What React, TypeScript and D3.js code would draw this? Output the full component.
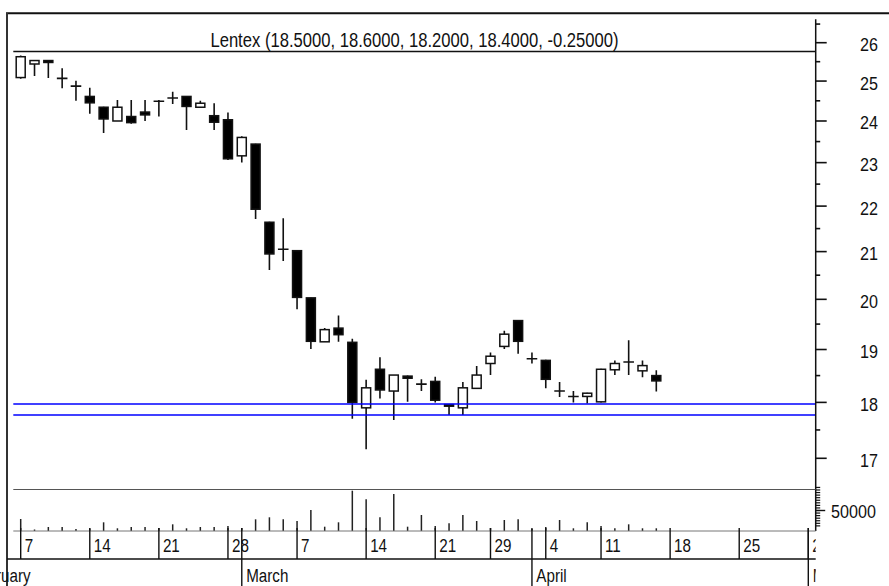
import React, { useEffect } from 'react';
import * as d3 from 'd3';

// Lentex daily candles, 7 Feb - 15 Apr 2005 (Warsaw)
const title = 'Lentex (18.5000, 18.6000, 18.2000, 18.4000, -0.25000)';

const dates = [
  '2005-02-07', '2005-02-08', '2005-02-09', '2005-02-10', '2005-02-11',
  '2005-02-14', '2005-02-15', '2005-02-16', '2005-02-17', '2005-02-18',
  '2005-02-21', '2005-02-22', '2005-02-23', '2005-02-24', '2005-02-25',
  '2005-02-28', '2005-03-01', '2005-03-02', '2005-03-03', '2005-03-04',
  '2005-03-07', '2005-03-08', '2005-03-09', '2005-03-10', '2005-03-11',
  '2005-03-14', '2005-03-15', '2005-03-16', '2005-03-17', '2005-03-18',
  '2005-03-21', '2005-03-22', '2005-03-23', '2005-03-24',
  '2005-03-29', '2005-03-30', '2005-03-31', '2005-04-01',
  '2005-04-04', '2005-04-05', '2005-04-06', '2005-04-07',
  '2005-04-11', '2005-04-12', '2005-04-13', '2005-04-14', '2005-04-15',
];
const opens = [
  25.09, 25.44, 25.53, 25.07, 24.87, 24.61, 24.34, 24.0, 24.11, 24.22,
  24.48, 24.57, 24.61, 24.34, 24.13, 24.03, 23.16, 23.44, 21.64, 21.05,
  21.02, 20.03, 19.15, 19.42, 19.14, 17.9, 18.62, 18.21, 18.49, 18.34,
  18.39, 17.96, 17.9, 18.26, 18.73, 19.06, 19.57, 18.82, 18.79, 18.21,
  18.11, 18.11, 18.01, 18.61, 18.76, 18.59, 18.5,
];
const highs = [
  25.66, 25.54, 25.54, 25.33, 25.01, 24.83, 24.35, 24.52, 24.52, 24.52,
  24.52, 24.73, 24.62, 24.5, 24.44, 24.21, 23.63, 23.45, 21.65, 21.73,
  21.02, 20.03, 19.42, 19.67, 19.21, 18.42, 18.85, 18.51, 18.5, 18.43,
  18.48, 17.96, 18.38, 18.68, 18.94, 19.37, 19.58, 18.94, 18.8, 18.38,
  18.21, 18.18, 18.63, 18.79, 19.18, 18.79, 18.6,
];
const lows = [
  25.06, 25.13, 25.08, 24.82, 24.5, 24.18, 23.71, 24.0, 23.93, 24.0,
  24.11, 24.42, 23.78, 24.33, 23.78, 23.06, 23.0, 21.71, 20.61, 20.8,
  19.8, 19.01, 19.15, 19.15, 17.7, 17.16, 18.07, 17.68, 18.01, 18.21,
  18.0, 17.77, 17.77, 18.26, 18.51, 19.01, 18.92, 18.73, 18.26, 18.1,
  18.0, 17.98, 18.0, 18.51, 18.51, 18.47, 18.2,
];
const closes = [
  25.63, 25.53, 25.48, 25.07, 24.87, 24.45, 24.05, 24.34, 23.96, 24.15,
  24.49, 24.57, 24.36, 24.44, 23.97, 23.09, 23.6, 21.93, 20.95, 21.05,
  20.04, 19.16, 19.39, 19.29, 18.0, 18.27, 18.23, 18.51, 18.45, 18.34,
  18.04, 17.93, 18.27, 18.51, 18.87, 19.3, 19.16, 18.82, 18.43, 18.21,
  18.11, 18.17, 18.62, 18.73, 18.76, 18.69, 18.4,
];
const volumes = [
  29300, 3700, 9800, 9800, 4900, 6100, 21200, 6600, 9800, 9800,
  7300, 16300, 6600, 9800, 9800, 12200, 7300, 28500, 33400, 28500,
  24400, 51200, 10500, 21200, 98300, 77300, 33400, 90200, 10500, 39000,
  12200, 18800, 39000, 24400, 7300, 26800, 28500, 4900, 9800, 26800,
  6600, 21200, 12200, 6600, 16300, 6600, 6600,
];

const supportLevels = [17.97, 17.77];
const priceTicks = [17, 18, 19, 20, 21, 22, 23, 24, 25, 26];
const priceMinorTicks = [17.5, 18.5, 19.5, 20.5, 21.5, 22.5, 23.5, 24.5, 25.5, 26.5];
const volumeLabelTick = 50000;

const holidays = ['2005-03-25', '2005-03-28', '2005-04-08'];
const weekStarts = [
  '2005-02-07', '2005-02-14', '2005-02-21', '2005-02-28', '2005-03-07', '2005-03-14',
  '2005-03-21', '2005-03-29', '2005-04-04', '2005-04-11', '2005-04-18', '2005-04-25', '2005-05-02',
];
const monthStarts = ['2005-02-01', '2005-03-01', '2005-04-01', '2005-05-02'];
const monthNames = ['February', 'March', 'April', 'May'];

const fmt = d3.timeFormat('%Y-%m-%d');
const parse = d3.timeParse('%Y-%m-%d');
const tradingDays = d3.timeDay
  .range(new Date(2005, 1, 1), new Date(2005, 4, 3))
  .filter((d) => d.getDay() !== 0 && d.getDay() !== 6 && !holidays.includes(fmt(d)))
  .map(fmt);
const dayIndex = (d: string) => tradingDays.indexOf(d);

const W = 889;
const H = 586;
const plotLeft = 13.3;
const axisX = 815.7;
const titleLineY = 51.5;
const volTop = 489.5;
const volBase = 531;
const dayRowBottom = 559;
const FONT = "'Liberation Sans', Arial, Helvetica, sans-serif";

const x = d3
  .scaleLinear()
  .domain([dayIndex('2005-02-07'), dayIndex('2005-05-02')])
  .range([20.7, 808.3]);
const y = d3.scaleLog().domain([17, 26]).range([458.3, 42.7]);
const yVol = d3.scaleLinear().domain([0, 100000]).range([volBase, volBase - 41]);
const volMinorTicks = d3.range(12500, 107000, 6250);

const Txt: React.FC<{
  x: number;
  y: number;
  size: number;
  sx?: number;
  anchor?: string;
  children: React.ReactNode;
}> = ({ x, y, size, sx = 0.84, anchor = 'start', children }) => (
  <g transform={`translate(${x},${y}) scale(${sx},1)`}>
    <text fontSize={size} textAnchor={anchor} fontFamily={FONT} fill="#111">
      {children}
    </text>
  </g>
);

const App: React.FC = () => {
  useEffect(() => {
    document.body.style.margin = '0';
  }, []);

  const bodyW = 9;
  const candles = dates.map((d, i) => ({
    cx: x(dayIndex(d)),
    o: opens[i],
    h: highs[i],
    l: lows[i],
    c: closes[i],
  }));

  return (
    <svg width={W} height={H} style={{ display: 'block', background: '#fff' }}>
      <defs>
        <clipPath id="dateClip">
          <rect x={-60} y={volBase - 4} width={axisX + 60} height={H} />
        </clipPath>
        <clipPath id="plotClip">
          <rect x={plotLeft} y={titleLineY} width={axisX - plotLeft} height={volTop - titleLineY} />
        </clipPath>
      </defs>

      {/* frame */}
      <line x1={6} x2={W} y1={13.3} y2={13.3} stroke="#111" strokeWidth={2} />
      <line x1={7} x2={7} y1={13} y2={H} stroke="#333" strokeWidth={2} />

      {/* title */}
      <Txt x={(plotLeft + axisX) / 2} y={46.7} size={19.5} sx={0.852} anchor="middle">
        {title}
      </Txt>
      <line x1={plotLeft} x2={axisX} y1={titleLineY} y2={titleLineY} stroke="#111" strokeWidth={1.6} />

      {/* candles */}
      <g clipPath="url(#plotClip)">
        {candles.map((k, i) => {
          const up = k.c > k.o;
          const top = y(Math.max(k.o, k.c));
          const bot = y(Math.min(k.o, k.c));
          const hgt = bot - top;
          return (
            <g key={i}>
              <line x1={k.cx} x2={k.cx} y1={y(k.h)} y2={y(k.l)} stroke="#111" strokeWidth={1.6} />
              {hgt < 1 ? (
                <line
                  x1={k.cx - bodyW / 2 - 0.8}
                  x2={k.cx + bodyW / 2 + 0.8}
                  y1={top}
                  y2={top}
                  stroke="#111"
                  strokeWidth={1.6}
                />
              ) : (
                <rect
                  x={k.cx - bodyW / 2}
                  y={top}
                  width={bodyW}
                  height={hgt}
                  fill={up ? '#fff' : '#000'}
                  stroke="#111"
                  strokeWidth={1.5}
                />
              )}
            </g>
          );
        })}
      </g>

      {/* support lines */}
      {supportLevels.map((v) => (
        <line key={v} x1={plotLeft} x2={axisX} y1={y(v)} y2={y(v)} stroke="#0000ff" strokeWidth={1.6} />
      ))}

      {/* price axis */}
      <line x1={axisX} x2={axisX} y1={19.3} y2={volBase} stroke="#111" strokeWidth={1.5} />
      {priceTicks.map((t) => (
        <g key={t}>
          <line x1={axisX} x2={axisX + 11} y1={y(t)} y2={y(t)} stroke="#111" strokeWidth={1.6} />
          <Txt x={860} y={y(t) + 8.5} size={19} sx={0.85}>
            {t}
          </Txt>
        </g>
      ))}
      {priceMinorTicks.map((t) => (
        <line key={t} x1={axisX} x2={axisX + 4.5} y1={y(t)} y2={y(t)} stroke="#111" strokeWidth={1.6} />
      ))}

      {/* volume panel */}
      <line x1={plotLeft} x2={axisX} y1={volTop} y2={volTop} stroke="#555" strokeWidth={1} />
      {candles.map((k, i) => (
        <line
          key={i}
          x1={k.cx}
          x2={k.cx}
          y1={yVol(0)}
          y2={yVol(volumes[i])}
          stroke="#222"
          strokeWidth={1.5}
        />
      ))}
      {volMinorTicks.map((t) => (
        <line key={t} x1={axisX} x2={axisX + 4.5} y1={yVol(t)} y2={yVol(t)} stroke="#111" strokeWidth={1.2} />
      ))}
      <line
        x1={axisX}
        x2={axisX + 9.5}
        y1={yVol(volumeLabelTick)}
        y2={yVol(volumeLabelTick)}
        stroke="#111"
        strokeWidth={1.4}
      />
      <Txt x={831} y={yVol(volumeLabelTick) + 7.5} size={19} sx={0.85}>
        {volumeLabelTick}
      </Txt>

      {/* date axis */}
      <line x1={plotLeft} x2={axisX} y1={volBase} y2={volBase} stroke="#777" strokeWidth={1} />
      <line x1={7} x2={axisX} y1={dayRowBottom} y2={dayRowBottom} stroke="#111" strokeWidth={1.6} />
      <g clipPath="url(#dateClip)">
        {weekStarts.map((d) => {
          const px = x(dayIndex(d));
          return (
            <g key={d}>
              <line x1={px} x2={px} y1={volBase - 3} y2={dayRowBottom} stroke="#111" strokeWidth={1.4} />
              <Txt x={px + 4} y={551.7} size={19} sx={0.8}>
                {parse(d)!.getDate()}
              </Txt>
            </g>
          );
        })}
        {monthStarts.map((d, i) => {
          const px = x(dayIndex(d));
          return (
            <g key={d}>
              <line x1={px} x2={px} y1={volBase - 3} y2={H} stroke="#111" strokeWidth={1.4} />
              <Txt x={px + 4.4} y={581.5} size={19} sx={0.8}>
                {monthNames[i]}
              </Txt>
            </g>
          );
        })}
      </g>
    </svg>
  );
};

export default App;
